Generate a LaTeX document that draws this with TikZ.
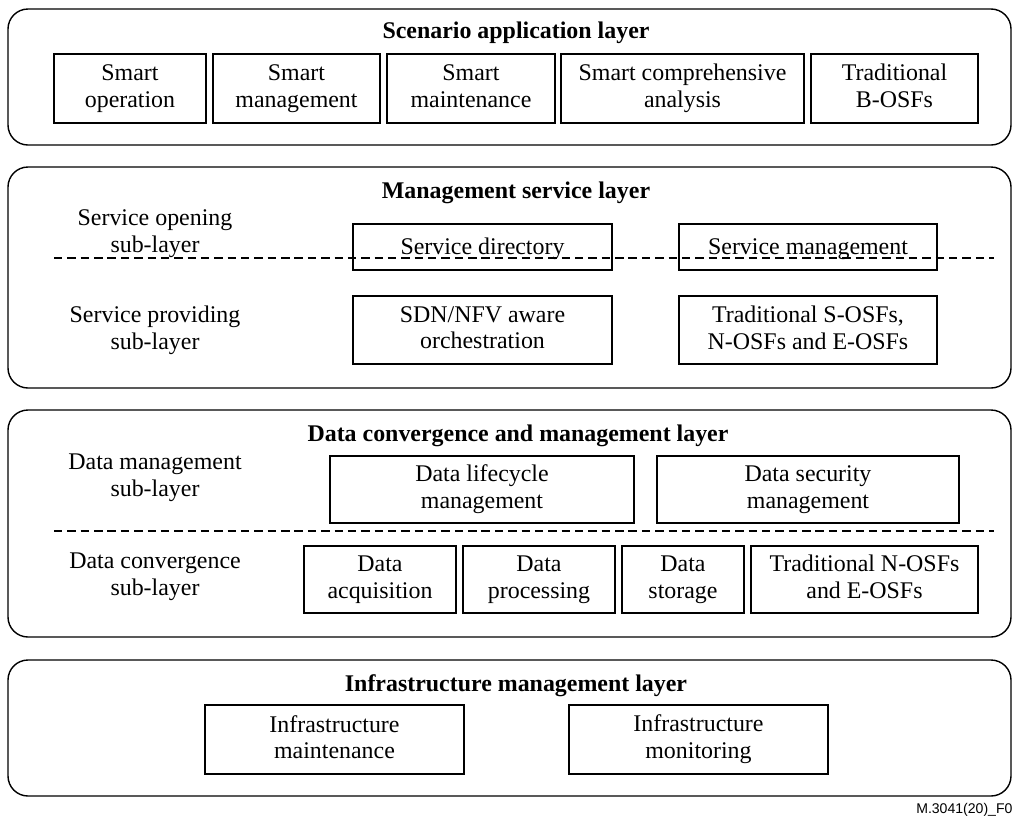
\documentclass[tikz,border=0pt]{standalone}
\usepackage{fontspec}
\setmainfont{Liberation Serif}
\setsansfont{Liberation Sans}
\newcommand\boxstrut{\rule[-3.5pt]{0pt}{18.5pt}}

\begin{document}
\begin{tikzpicture}[x=0.025cm, y=-0.025cm,
  layer/.style={draw, line width=1pt, rounded corners=0.5cm},
  box/.style={draw, line width=1pt, align=center, inner sep=0pt, font=\fontsize{17}{19}\selectfont,
    execute at begin node=\boxstrut, execute at end node=\boxstrut},
  title/.style={font=\fontsize{17}{19}\selectfont\bfseries},
  sublabel/.style={align=center, font=\fontsize{17}{19}\selectfont,
    execute at begin node=\boxstrut, execute at end node=\boxstrut},
  divider/.style={line width=1pt, dash pattern=on 6pt off 3.5pt}]
\useasboundingbox (0,0) rectangle (1012,818);

%the layers
\draw [layer] (8,9) rectangle (1011,145);
\draw [layer] (8,167) rectangle (1011,388);
\draw [layer] (8,410) rectangle (1011,637);
\draw [layer] (8,660) rectangle (1011,796);

%scenario application layer
\node [title] (sal) at (516,33) {Scenario application layer};
\node [box, minimum width=3.8cm, minimum height=1.725cm] (sop) at (130,88.5) {Smart\\operation};
\node [box, minimum width=4.175cm, minimum height=1.725cm] (smg) at (296.5,88.5) {Smart\\management};
\node [box, minimum width=4.2cm, minimum height=1.725cm] (smt) at (471,88.5) {Smart\\maintenance};
\node [box, minimum width=6.075cm, minimum height=1.725cm] (sca) at (682.5,88.5) {Smart comprehensive\\analysis};
\node [box, minimum width=4.175cm, minimum height=1.725cm] (tbo) at (894.5,88.5) {Traditional\\B-OSFs};

%management service layer
\node [title] (msl) at (516,193) {Management service layer};
\node [sublabel] (sol) at (155,234) {Service opening\\sub-layer};
\node [box, minimum width=6.475cm, minimum height=1.15cm] (sdir) at (482.5,247) {Service directory};
\node [box, minimum width=6.45cm, minimum height=1.15cm] (smgt) at (808,247) {Service management};
\draw [divider] (54,258) -- (994,258);
\node [sublabel] (spl) at (155,330) {Service providing\\sub-layer};
\node [box, minimum width=6.475cm, minimum height=1.7cm] (sdn) at (482.5,330) {SDN/NFV aware\\orchestration};
\node [box, minimum width=6.45cm, minimum height=1.7cm] (tso) at (808,330) {Traditional S-OSFs,\\N-OSFs and E-OSFs};

%data convergence and management layer
\node [title] (dcl) at (518,436) {Data convergence and management layer};
\node [sublabel] (dml) at (155,478) {Data management\\sub-layer};
\node [box, minimum width=7.6cm, minimum height=1.675cm] (dlm) at (482,489.5) {Data lifecycle\\management};
\node [box, minimum width=7.55cm, minimum height=1.675cm] (dsm) at (808,489.5) {Data security\\management};
\draw [divider] (54,531) -- (994,531);
\node [sublabel] (dcs) at (155,577) {Data convergence\\sub-layer};
\node [box, minimum width=3.8cm, minimum height=1.675cm] (dacq) at (380,579.5) {Data\\acquisition};
\node [box, minimum width=3.8cm, minimum height=1.675cm] (dpro) at (539,579.5) {Data\\processing};
\node [box, minimum width=3.05cm, minimum height=1.675cm] (dsto) at (683,579.5) {Data\\storage};
\node [box, minimum width=5.675cm, minimum height=1.675cm] (tno) at (864.5,579.5) {Traditional N-OSFs\\and E-OSFs};

%infrastructure management layer
\node [title] (iml) at (516,686) {Infrastructure management layer};
\node [box, minimum width=6.475cm, minimum height=1.725cm] (imnt) at (334.5,739.5) {Infrastructure\\maintenance};
\node [box, minimum width=6.475cm, minimum height=1.725cm] (imon) at (698.5,739.5) {Infrastructure\\monitoring};

%figure number
\node [anchor=base west, inner sep=0pt, font=\sffamily\fontsize{10}{12}\selectfont] (fig) at (916,813) {M.3041(20)\_F0};
\end{tikzpicture}
\end{document}
